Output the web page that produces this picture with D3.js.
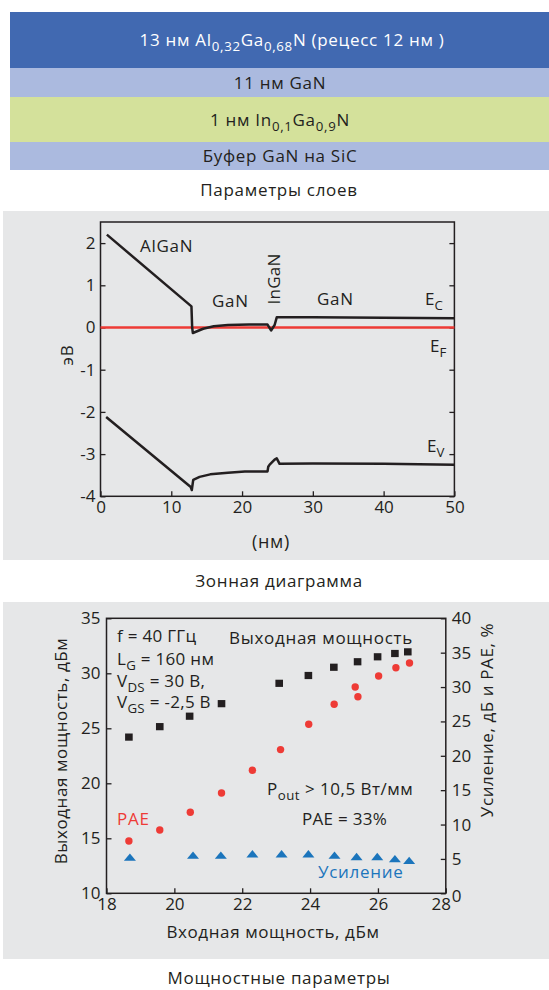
<!DOCTYPE html>
<html>
<head>
<meta charset="utf-8">
<script src="https://cdn.jsdelivr.net/npm/d3@7"></script>
<style>
  body { margin: 0; background: #fff; }
  svg { display: block; font-family: "Open Sans", sans-serif; }
  .tick text { fill: #231f20; }
</style>
</head>
<body>
<div id="chart"></div>
<script>
// ---- layer stack ----
const layerLabels = [
  [["13 нм Al"], ["0,32", 1], ["Ga"], ["0,68", 1], ["N (рецесс 12 нм )"]],
  [["11 нм GaN"]],
  [["1 нм In"], ["0,1", 1], ["Ga"], ["0,9", 1], ["N"]],
  [["Буфер GaN на SiC"]]
];
const layerColors = ["#4169b1", "#abbadf", "#d4e19b", "#abbadf"];
const layerTextColors = ["#ffffff", "#231f20", "#231f20", "#231f20"];

// ---- band diagram (nm, eV) ----
const ecX = [0.9, 12.85, 12.95, 13.05, 14.5, 16, 18, 21, 23.6, 24.1, 24.6, 24.9, 30, 40, 50];
const ecY = [2.2, 0.5, 0.0, -0.13, -0.03, 0.03, 0.06, 0.07, 0.07, -0.07, 0.06, 0.24, 0.24, 0.23, 0.22];
const evX = [0.8, 12.75, 12.9, 13.1, 14, 15.5, 18, 20.4, 23.6, 23.7, 23.9, 24.6, 24.9, 25.3, 30, 40, 50];
const evY = [-2.12, -3.78, -3.85, -3.61, -3.54, -3.48, -3.44, -3.41, -3.41, -3.3, -3.25, -3.13, -3.1, -3.23, -3.22, -3.23, -3.25];
const efX = [0, 50];
const efY = [0, 0];
const bandXTicks = [0, 10, 20, 30, 40, 50];
const bandYTicks = [2, 1, 0, -1, -2, -3, -4];

// ---- power sweep ----
const pinOut = [18.66, 19.57, 20.45, 21.39, 23.09, 23.95, 24.7, 25.4, 25.99, 26.5, 26.88];
const pout = [24.2, 25.15, 26.1, 27.24, 29.09, 29.8, 30.55, 31.05, 31.5, 31.8, 31.95];
const pinPae = [18.66, 19.57, 20.47, 21.39, 22.3, 23.13, 23.96, 24.71, 25.33, 25.41, 26.02, 26.53, 26.93];
const pae = [7.6, 9.2, 11.8, 14.6, 17.9, 20.9, 24.6, 27.5, 30.0, 28.6, 31.6, 32.8, 33.5];
const pinGain = [18.69, 20.55, 21.37, 22.3, 23.16, 23.95, 24.72, 25.37, 25.98, 26.5, 26.92];
const gain = [5.2, 5.5, 5.5, 5.7, 5.7, 5.7, 5.5, 5.3, 5.3, 5.0, 4.75];
const pinTicks = [18, 20, 22, 24, 26, 28];
const poutTicks = [10, 15, 20, 25, 30, 35];
const rightTicks = [0, 5, 10, 15, 20, 25, 30, 35, 40];

const ink = "#231f20";
const red = "#ee3b36";
const blue = "#1b75bc";
const panel = "#e6e7e8";

const svg = d3.select("#chart").append("svg")
    .attr("width", 549)
    .attr("height", 990);

// write text with subscript pieces: parts = [[str, isSub], ...]
function rich(sel, parts, size) {
    let sub = false;
    parts.forEach(function(p) {
        let t = sel.append("tspan").text(p[0]);
        if (p[1] && !sub) { t.attr("dy", size * 0.32).attr("font-size", size * 0.78); sub = true; }
        else if (!p[1] && sub) { t.attr("dy", -size * 0.32); sub = false; }
        else if (p[1]) { t.attr("font-size", size * 0.78); }
    });
    return sel;
}

function label(x, y, parts, opts) {
    opts = opts || {};
    const size = opts.size || 17;
    const t = svg.append("text")
        .attr("x", x).attr("y", y)
        .attr("font-size", size)
        .attr("letter-spacing", opts.ls == null ? 0.7 : opts.ls)
        .attr("fill", opts.fill || ink)
        .attr("text-anchor", opts.anchor || "start");
    if (opts.rotate) t.attr("transform", `rotate(-90, ${x}, ${y})`);
    return rich(t, typeof parts === "string" ? [[parts]] : parts, size);
}

// ================= layer stack =================
const layerH = [56, 29, 45, 28];
let yy = 12;
layerLabels.forEach(function(parts, i) {
    svg.append("rect")
        .attr("x", 10).attr("y", yy)
        .attr("width", 549 - 10).attr("height", layerH[i])
        .attr("fill", layerColors[i]);
    label(i === 0 ? 292 : 280, yy + layerH[i] / 2 + 6, parts,
          {anchor: "middle", fill: layerTextColors[i]});
    yy += layerH[i];
});
label(279, 196, "Параметры слоев", {anchor: "middle"});

// ================= band diagram =================
svg.append("rect").attr("x", 3).attr("y", 211).attr("width", 546).attr("height", 349).attr("fill", panel);

const band = {left: 100.5, right: 454.4, top: 222, bottom: 496.3};
const bx = d3.scaleLinear().domain([0, 50]).range([band.left, band.right]);
const by = d3.scaleLinear().domain([-4, 2.5]).range([band.bottom, band.top]);
const num = d => String(d);

const gBand = svg.append("g");
gBand.append("g")
    .attr("transform", `translate(0,${band.bottom})`)
    .call(d3.axisBottom(bx).tickValues(bandXTicks).tickSizeInner(-5).tickSizeOuter(0).tickPadding(5).tickFormat(num));
gBand.append("g")
    .attr("transform", `translate(${band.left},0)`)
    .call(d3.axisLeft(by).tickValues(bandYTicks).tickSizeInner(-5).tickSizeOuter(0).tickPadding(5).tickFormat(num));
gBand.append("g")
    .attr("transform", `translate(${band.right},0)`)
    .call(d3.axisRight(by).tickValues(bandYTicks).tickSizeInner(-5).tickSizeOuter(0).tickFormat(""));
gBand.selectAll(".tick text").attr("font-size", 17).attr("font-family", "Open Sans");
gBand.selectAll(".domain").remove();
gBand.selectAll(".tick line").attr("stroke", ink).attr("stroke-width", 1.3);
gBand.append("rect")
    .attr("x", band.left).attr("y", band.top)
    .attr("width", band.right - band.left).attr("height", band.bottom - band.top)
    .attr("fill", "none").attr("stroke", ink).attr("stroke-width", 1.5);

const bandLine = d3.line().x(d => bx(d[0])).y(d => by(d[1]));
gBand.append("path").datum(d3.zip(efX, efY)).attr("d", bandLine)
    .attr("fill", "none").attr("stroke", red).attr("stroke-width", 2.5);
[[ecX, ecY], [evX, evY]].forEach(function(s) {
    gBand.append("path").datum(d3.zip(s[0], s[1])).attr("d", bandLine)
        .attr("fill", "none").attr("stroke", ink).attr("stroke-width", 2.5)
        .attr("stroke-linejoin", "round");
});

label(140, 252, "AlGaN");
label(212, 307, "GaN");
label(280, 279, "InGaN", {anchor: "middle", rotate: true, ls: 0.2});
label(317, 305, "GaN");
label(425, 305, [["E"], ["C", 1]], {ls: 0});
label(430, 352, [["E"], ["F", 1]], {ls: 0});
label(427, 452, [["E"], ["V", 1]], {ls: 0});
label(73, 355, "эВ", {anchor: "middle", rotate: true});
label(271, 548, "(нм)", {anchor: "middle", size: 18});
label(279, 587, "Зонная диаграмма", {anchor: "middle"});

// ================= power sweep =================
svg.append("rect").attr("x", 3).attr("y", 602).attr("width", 546).attr("height", 357).attr("fill", panel);

const pw = {left: 106.5, right: 445.8, top: 618.3, bottom: 893.3};
const px = d3.scaleLinear().domain([18, 28]).range([pw.left, pw.right]);
const py = d3.scaleLinear().domain([10, 35]).range([pw.bottom, pw.top]);
const py2 = d3.scaleLinear().domain([0, 40]).range([pw.bottom, pw.top]);

const gPow = svg.append("g");
const xAx = gPow.append("g")
    .attr("transform", `translate(0,${pw.bottom})`)
    .call(d3.axisBottom(px).tickValues(pinTicks).tickSizeInner(-5).tickSizeOuter(0).tickPadding(5).tickFormat(num));
gPow.append("g")
    .attr("transform", `translate(${pw.left},0)`)
    .call(d3.axisLeft(py).tickValues(poutTicks).tickSizeInner(-5).tickSizeOuter(0).tickPadding(6).tickFormat(num));
const rAx = gPow.append("g")
    .attr("transform", `translate(${pw.right},0)`)
    .call(d3.axisRight(py2).tickValues(rightTicks).tickSizeInner(-5).tickSizeOuter(0).tickPadding(6).tickFormat(num));
gPow.selectAll(".tick text").attr("font-size", 17).attr("font-family", "Open Sans");
gPow.selectAll(".domain").remove();
gPow.selectAll(".tick line").attr("stroke", ink).attr("stroke-width", 1.3);
// corner labels nudged apart as in the source figure
xAx.selectAll(".tick text").filter(d => d === 28).attr("dx", -5);
rAx.selectAll(".tick text").filter(d => d === 0).attr("dy", "0.5em");
gPow.append("rect")
    .attr("x", pw.left).attr("y", pw.top)
    .attr("width", pw.right - pw.left).attr("height", pw.bottom - pw.top)
    .attr("fill", "none").attr("stroke", ink).attr("stroke-width", 1.5);

gPow.selectAll("rect.pout").data(d3.zip(pinOut, pout)).join("rect")
    .attr("class", "pout")
    .attr("x", d => px(d[0]) - 3.8).attr("y", d => py(d[1]) - 3.6)
    .attr("width", 7.6).attr("height", 7.2)
    .attr("fill", ink);
gPow.selectAll("circle.pae").data(d3.zip(pinPae, pae)).join("circle")
    .attr("class", "pae")
    .attr("cx", d => px(d[0])).attr("cy", d => py2(d[1]))
    .attr("r", 3.7).attr("fill", red);
gPow.selectAll("path.gain").data(d3.zip(pinGain, gain)).join("path")
    .attr("class", "gain")
    .attr("transform", d => `translate(${px(d[0])},${py2(d[1])})`)
    .attr("d", "M-6,3.3L0,-4L6,3.3Z")
    .attr("fill", blue);

label(117, 642, "f = 40 ГГц", {ls: 0.3});
label(117, 665, [["L"], ["G", 1], [" = 160 нм"]], {ls: 0.3});
label(117, 687, [["V"], ["DS", 1], [" = 30 В,"]], {ls: 0.3});
label(117, 708, [["V"], ["GS", 1], [" = -2,5 В"]], {ls: 0.3});
label(229, 644, "Выходная мощность");
label(267, 795, [["P"], ["out", 1], [" > 10,5 Вт/мм"]], {ls: 0.5});
label(302, 825, "PAE = 33%", {ls: 0.3});
label(117, 825, "PAE", {fill: red});
label(318, 878, "Усиление", {fill: blue});

label(67, 751, "Выходная мощность, дБм", {anchor: "middle", rotate: true, ls: 0.6});
label(493, 720, "Усиление, дБ и  PAE, %", {anchor: "middle", rotate: true, ls: 0.6});
label(273, 938, "Входная мощность, дБм", {anchor: "middle", ls: 0.6});
label(279, 984, "Мощностные параметры", {anchor: "middle"});
</script>
</body>
</html>
